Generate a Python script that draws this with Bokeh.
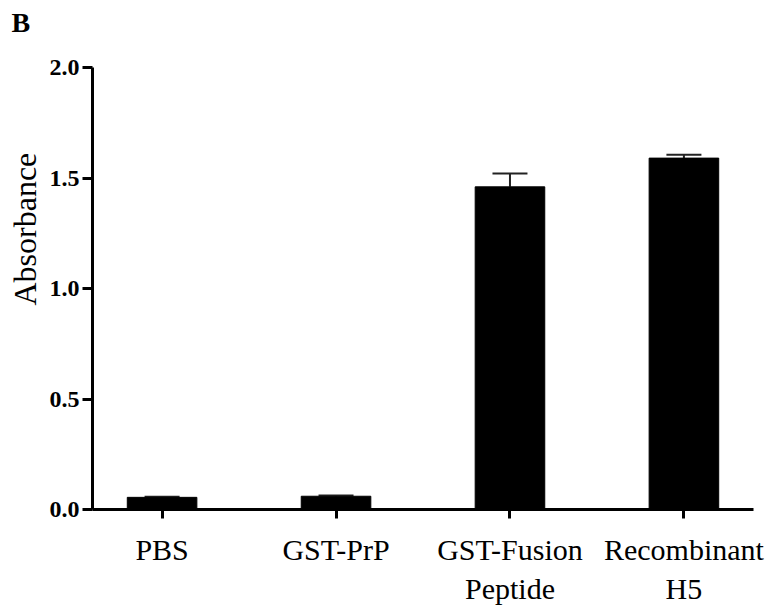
from bokeh.plotting import figure
from bokeh.models import ColumnDataSource, FixedTicker, Title, Whisker, TeeHead, Range1d
from bokeh.embed import file_html
from bokeh.resources import INLINE

categories = ["PBS", "GST-PrP", "GST-Fusion\nPeptide", "Recombinant\nH5"]
values = [0.055, 0.06, 1.46, 1.59]
errors = [0.003, 0.003, 0.06, 0.015]
y_ticks = [0.0, 0.5, 1.0, 1.5, 2.0]
y_tick_labels = ["0.0", "0.5", "1.0", "1.5", "2.0"]

xs = list(range(len(categories)))
src = ColumnDataSource(dict(
    x=xs, top=values,
    upper=[v + e for v, e in zip(values, errors)],
))

p = figure(width=780, height=611, output_backend="svg", toolbar_location=None,
           x_range=Range1d(-0.4, 3.4), y_range=Range1d(0, 2.0),
           frame_width=661, frame_height=442,
           min_border_left=92, min_border_top=67, min_border_right=27, min_border_bottom=102)
p.outline_line_color = None
p.xgrid.grid_line_color = None
p.ygrid.grid_line_color = None
p.background_fill_color = "white"
p.border_fill_color = "white"

p.vbar(x="x", top="top", width=0.4, bottom=0, source=src, fill_color="black", line_color="black")
w = Whisker(base="x", lower="top", upper="upper", source=src, dimension="height",
            line_color="#222222", line_width=2,
            upper_head=TeeHead(size=35, line_color="#222222", line_width=2),
            lower_head=None)
p.add_layout(w)

yax = p.yaxis[0]
xax = p.xaxis[0]

# y axis
yax.ticker = FixedTicker(ticks=y_ticks)
yax.major_label_overrides = {t: l for t, l in zip(y_ticks, y_tick_labels)}
yax.axis_line_width = 3
yax.major_tick_line_width = 3
yax.major_tick_out = 10
yax.major_tick_in = 0
yax.minor_tick_line_color = None
yax.major_label_standoff = 3
yax.major_label_text_font = "'Liberation Serif'"
yax.major_label_text_font_style = "bold"
yax.major_label_text_font_size = "24px"
yax.major_label_text_color = "black"

# x axis
xax.ticker = FixedTicker(ticks=xs)
xax.major_label_overrides = {i: c for i, c in zip(xs, categories)}
xax.axis_line_width = 3
xax.major_tick_line_width = 3
xax.major_tick_out = 9
xax.major_tick_in = 0
xax.minor_tick_line_color = None
xax.major_label_standoff = 14
xax.major_label_text_font = "'Liberation Serif'"
xax.major_label_text_font_style = "normal"
xax.major_label_text_font_size = "30px"
xax.major_label_text_color = "black"
xax.major_label_text_line_height = 1.2

p.add_layout(Title(text="Absorbance", align="left", offset=204, standoff=7,
                   text_font="'Liberation Serif'", text_font_size="32px",
                   text_font_style="normal", text_color="black"), "left")
p.title.text = "B\n "
p.title.align = "left"
p.title.vertical_align = "top"
p.title.offset = -81
p.title.standoff = 0
p.title.text_line_height = 0.9
p.title.text_font = "'Liberation Serif'"
p.title.text_font_style = "bold"
p.title.text_font_size = "28px"
p.title.text_color = "black"

open("out.html", "w").write(file_html(p, INLINE))
